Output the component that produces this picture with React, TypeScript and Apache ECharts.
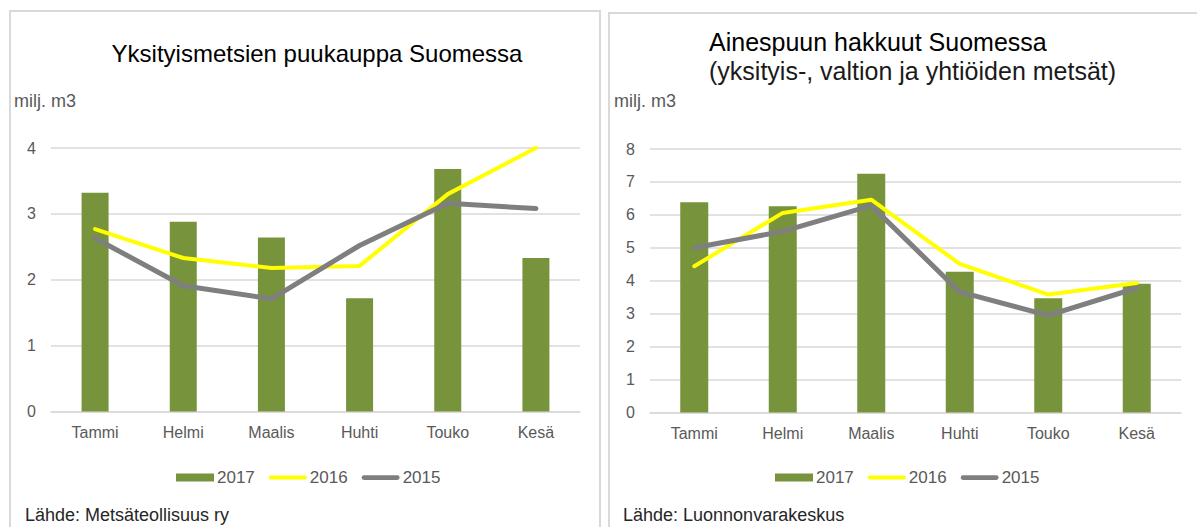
import React, { useEffect, useRef } from "react";
import * as echarts from "echarts";

const months = ["Tammi", "Helmi", "Maalis", "Huhti", "Touko", "Kesä"];

// Left chart: Yksityismetsien puukauppa Suomessa (milj. m3)
const tradeTicks = [0, 1, 2, 3, 4];
const trade2017 = [3.32, 2.88, 2.64, 1.72, 3.68, 2.33];
const trade2016 = [2.77, 2.33, 2.18, 2.21, 3.3, 4.0];
const trade2015 = [2.63, 1.91, 1.71, 2.52, 3.16, 3.08];

// Right chart: Ainespuun hakkuut Suomessa (milj. m3)
const cutTicks = [0, 1, 2, 3, 4, 5, 6, 7, 8];
const cut2017 = [6.38, 6.26, 7.25, 4.27, 3.47, 3.91];
const cut2016 = [4.44, 6.06, 6.46, 4.51, 3.58, 3.93];
const cut2015 = [5.0, 5.5, 6.28, 3.66, 2.95, 3.78];

const GREEN = "#77933c";
const YELLOW = "#ffff00";
const GRAY = "#7f7f7f";
const GRID = "#d9d9d9";
const LABEL = "#595959";
const FONT = "'Liberation Sans', Arial, sans-serif";

export default function App() {
  const ref = useRef<HTMLDivElement>(null);

  useEffect(() => {
    document.body.style.margin = "0";
    const chart = echarts.init(ref.current!, undefined, { renderer: "svg" });

    const yAxisBase = (ticks: number[]) => ({
      type: "value",
      min: ticks[0],
      max: ticks[ticks.length - 1],
      interval: 1,
      axisLine: { show: false },
      axisTick: { show: false },
      axisLabel: { color: LABEL, fontSize: 16, fontFamily: FONT, margin: 15 },
      splitLine: { lineStyle: { color: GRID, width: 1.5 } },
    });
    const xAxisBase = () => ({
      type: "category",
      data: months,
      axisLine: { show: true, lineStyle: { color: GRID, width: 1.5 } },
      axisTick: { show: false },
      axisLabel: { color: LABEL, fontSize: 16, fontFamily: FONT, margin: 13 },
    });

    const barIcon = "path://M0 0h38v8h-38z";
    const lineIcon = "path://M2 0h36a2 2 0 0 1 0 4h-36a2 2 0 0 1 0-4z";
    const legendBase = (leftPx: number) => ({
      left: leftPx,
      top: 464,
      itemWidth: 38,
      itemHeight: 9,
      itemGap: 14,
      textStyle: { color: LABEL, fontSize: 17, fontFamily: FONT, padding: [0, 0, 0, -2] },
      data: [
        { name: "2017", icon: barIcon },
        { name: "2016", icon: lineIcon },
        { name: "2015", icon: "path://M2.5 0h35a2.5 2.5 0 0 1 0 5h-35a2.5 2.5 0 0 1 0-5z" },
      ],
    });

    const makeSeries = (idx: number, b: number[], y: number[], g: number[], bw: number) => [
      {
        name: "2017",
        type: "bar",
        xAxisIndex: idx,
        yAxisIndex: idx,
        data: b,
        barWidth: bw,
        itemStyle: { color: GREEN },
      },
      {
        name: "2016",
        type: "line",
        xAxisIndex: idx,
        yAxisIndex: idx,
        data: y,
        symbol: "none",
        lineStyle: { color: YELLOW, width: 4, cap: "round", join: "round" },
        itemStyle: { color: YELLOW },
      },
      {
        name: "2015",
        type: "line",
        xAxisIndex: idx,
        yAxisIndex: idx,
        data: g,
        symbol: "none",
        lineStyle: { color: GRAY, width: 5, cap: "round", join: "round" },
        itemStyle: { color: GRAY },
      },
    ];

    chart.setOption({
      animation: false,
      backgroundColor: "#ffffff",
      grid: [
        { left: 51, top: 148, width: 529, height: 263.5 },
        { left: 650, top: 149, width: 531, height: 263.5 },
      ],
      xAxis: [
        { ...xAxisBase(), gridIndex: 0 },
        { ...xAxisBase(), gridIndex: 1 },
      ],
      yAxis: [
        { ...yAxisBase(tradeTicks), gridIndex: 0 },
        { ...yAxisBase(cutTicks), gridIndex: 1 },
      ],
      legend: [
        { ...legendBase(171) },
        { ...legendBase(770) },
      ],
      series: [
        ...makeSeries(0, trade2017, trade2016, trade2015, 27),
        ...makeSeries(1, cut2017, cut2016, cut2015, 28),
      ],
      graphic: [
        {
          type: "rect",
          shape: { x: 10, y: 11, width: 590, height: 540 },
          style: { fill: "none", stroke: "#d9d9d9", lineWidth: 2 },
          z: -1,
        },
        {
          type: "rect",
          shape: { x: 609, y: 13, width: 600, height: 540 },
          style: { fill: "none", stroke: "#d9d9d9", lineWidth: 2 },
          z: -1,
        },
        {
          type: "text",
          x: 317,
          y: 53,
          style: {
            text: "Yksityismetsien puukauppa Suomessa",
            fontSize: 24,
            fontFamily: FONT,
            fill: "#000000",
            align: "center",
            verticalAlign: "middle",
          },
        },
        {
          type: "text",
          x: 709,
          y: 42,
          style: {
            text: "Ainespuun hakkuut Suomessa",
            fontSize: 25,
            fontFamily: FONT,
            fill: "#000000",
            align: "left",
            verticalAlign: "middle",
          },
        },
        {
          type: "text",
          x: 709,
          y: 71,
          style: {
            text: "(yksityis-, valtion ja yhtiöiden metsät)",
            fontSize: 25,
            fontFamily: FONT,
            fill: "#1a1a1a",
            align: "left",
            verticalAlign: "middle",
          },
        },
        {
          type: "text",
          x: 14,
          y: 101,
          style: { text: "milj. m3", fontSize: 18, fontFamily: FONT, fill: LABEL, verticalAlign: "middle" },
        },
        {
          type: "text",
          x: 614,
          y: 101,
          style: { text: "milj. m3", fontSize: 18, fontFamily: FONT, fill: LABEL, verticalAlign: "middle" },
        },
        {
          type: "text",
          x: 25,
          y: 515,
          style: { text: "Lähde: Metsäteollisuus ry", fontSize: 18, fontFamily: FONT, fill: "#262626", verticalAlign: "middle" },
        },
        {
          type: "text",
          x: 623,
          y: 515,
          style: { text: "Lähde: Luonnonvarakeskus", fontSize: 18, fontFamily: FONT, fill: "#262626", verticalAlign: "middle" },
        },
      ],
    });

    return () => chart.dispose();
  }, []);

  return (
    <div
      ref={ref}
      style={{ position: "fixed", left: 0, top: 0, width: 1197, height: 527, background: "#fff" }}
    />
  );
}
